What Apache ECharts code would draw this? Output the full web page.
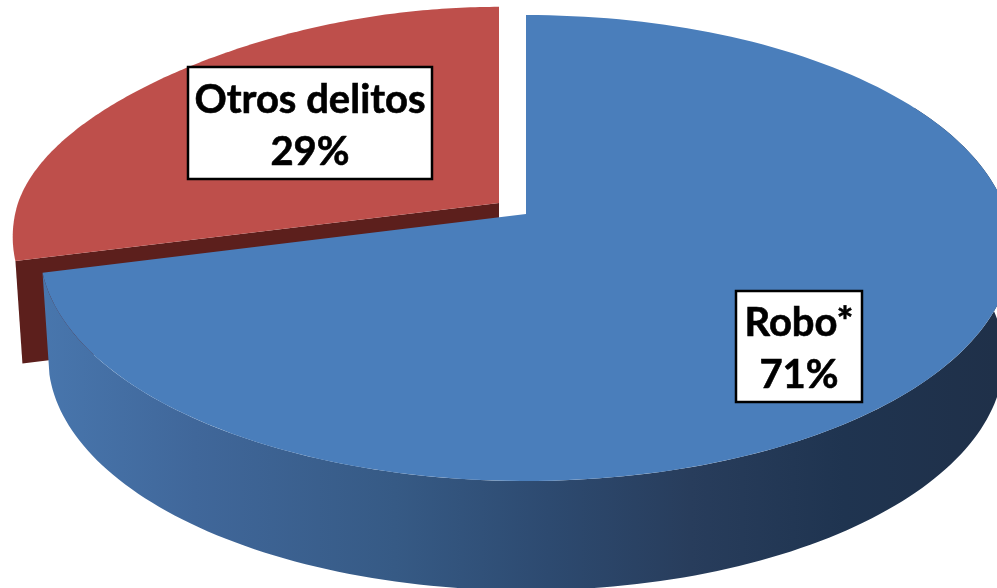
<!DOCTYPE html>
<html>
<head>
<meta charset="utf-8">
<style>html,body{margin:0;padding:0;background:#fff}#chart{width:997px;height:588px}</style>
<script src="https://cdn.jsdelivr.net/npm/echarts@6/dist/echarts.min.js"></script>
</head>
<body>
<div id="chart"></div>
<script>
var categories = ['Robo*', 'Otros delitos'];
var values = [71, 29];
var topColors = ['#4a7ebb', '#be4f4b'];
var drawOrder = [1, 0];

// Perspective model of the tilted disc (top and bottom faces).
var topFaces = [
  { cx: 526, cy: 214, a: 481, b: 228, k: 0.146, bend: 0 },
  { cx: 526, cy: 214, a: 481, b: 225, k: 0.147, bend: 20 }
];
var bottomFace = { cx: 526, cy: 316, a: 470, b: 225, k: 0.18, bend: 0 };
var explode = [[0, 0], [-27, -11]];
var labelBoxes = [[736, 291, 126, 111], [188, 67, 244, 112]];
var wallStops = [
  { offset: 0, color: '#4876ad' },
  { offset: 0.16, color: '#40679a' },
  { offset: 0.37, color: '#365a85' },
  { offset: 0.53, color: '#2d4a70' },
  { offset: 0.68, color: '#283d5c' },
  { offset: 0.84, color: '#1f3450' },
  { offset: 1, color: '#1f3049' }
];

var total = values.reduce(function (s, v) { return s + v; }, 0);
function startAngle(i) {
  var s = 0;
  for (var j = 0; j < i; j++) s += values[j];
  return s / total * 2 * Math.PI;
}
function project(face, t, off) {
  var c = Math.cos(t), s = Math.sin(t);
  var w = 1 + face.k * c;
  return [
    face.cx + off[0] + face.a * s / w,
    face.cy + off[1] - face.b * c / w + face.bend * s * s * Math.max(c, 0)
  ];
}
function arc(face, t0, t1, off) {
  var n = 160, pts = [];
  for (var i = 0; i <= n; i++) pts.push(project(face, t0 + (t1 - t0) * i / n, off));
  return pts;
}
function renderItem(params, api) {
  var i = api.value(0);
  var topFace = topFaces[i];
  var t0 = startAngle(i);
  var t1 = t0 + api.value(1) / total * 2 * Math.PI;
  var off = explode[i];
  var children = [];
  if (i === 0) {
    var wallT0 = Math.max(t0, Math.PI / 3);
    var wall = arc(topFace, wallT0, t1, off).concat(arc(bottomFace, wallT0, t1, off).reverse());
    children.push({
      type: 'polygon',
      shape: { points: wall },
      style: {
        fill: new echarts.graphic.LinearGradient(42, 0, 997, 0, wallStops, true)
      }
    });
  } else {
    var cutA = project(topFace, t0, off);
    var cutB = [topFace.cx + off[0], topFace.cy + off[1]];
    var cutC = [bottomFace.cx + off[0], bottomFace.cy + off[1]];
    var cutD = project(bottomFace, t0, off);
    children.push({
      type: 'polygon',
      shape: { points: [cutA, cutB, cutC, cutD] },
      style: { fill: '#5c1f1c' }
    });
  }
  var top = [[topFace.cx + off[0], topFace.cy + off[1]]].concat(arc(topFace, t0, t1, off));
  children.push({
    type: 'polygon',
    shape: { points: top },
    style: { fill: topColors[i] }
  });
  var box = labelBoxes[i];
  children.push({
    type: 'rect',
    shape: { x: box[0], y: box[1], width: box[2], height: box[3] },
    style: { fill: '#fff', stroke: '#000', lineWidth: 2.5 }
  });
  children.push({
    type: 'text',
    style: {
      x: box[0] + box[2] / 2,
      y: box[1] + box[3] / 2 + 3,
      text: categories[i] + '\n' + api.value(1) + '%',
      align: 'center',
      verticalAlign: 'middle',
      fill: '#000',
      stroke: '#000',
      lineWidth: 0.6,
      font: 'bold 40px Lato',
      lineHeight: 52
    }
  });
  return { type: 'group', children: children };
}
var chart = echarts.init(document.getElementById('chart'), null, { renderer: 'canvas' });
chart.setOption({
  animation: false,
  backgroundColor: '#fff',
  series: drawOrder.map(function (i, z) {
    return {
      type: 'custom',
      name: categories[i],
      coordinateSystem: 'none',
      z: z + 2,
      renderItem: renderItem,
      data: [[i, values[i]]],
      silent: true
    };
  })
});
</script>
</body>
</html>
